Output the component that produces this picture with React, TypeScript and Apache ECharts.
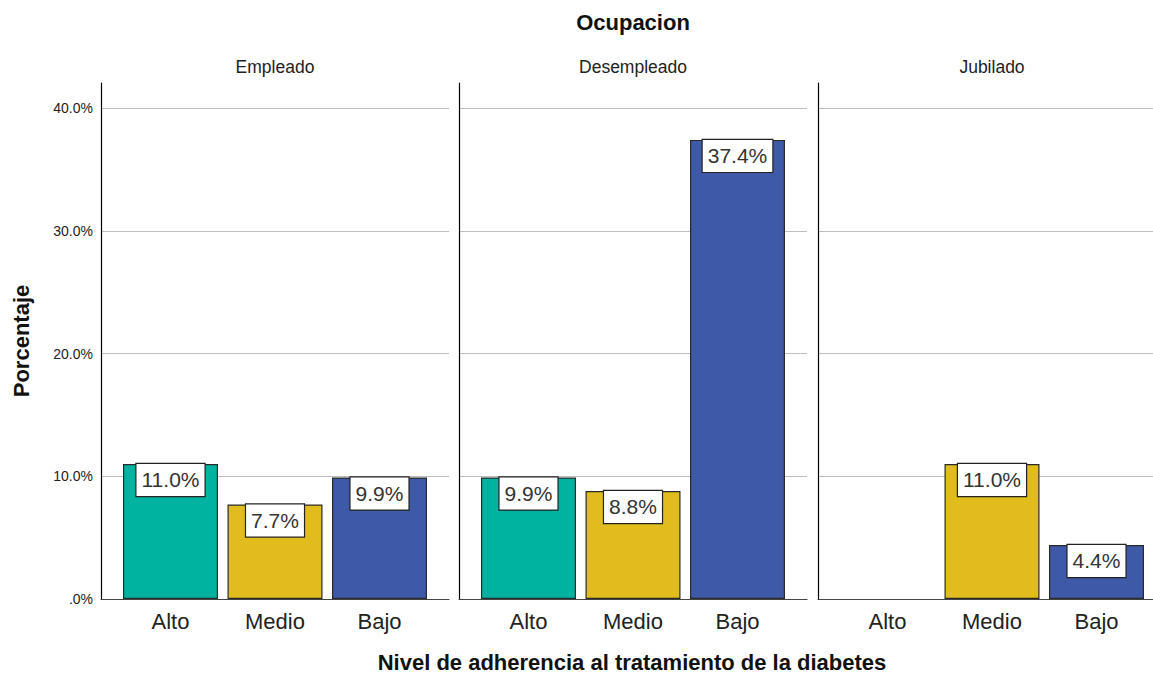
import React, { useEffect, useRef } from "react";
import * as echarts from "echarts";

const chartTitle = "Ocupacion";
const panelNames = ["Empleado", "Desempleado", "Jubilado"];
const categories = ["Alto", "Medio", "Bajo"];
const empleado: (number | null)[] = [11.0, 7.7, 9.9];
const desempleado: (number | null)[] = [9.9, 8.8, 37.4];
const jubilado: (number | null)[] = [null, 11.0, 4.4];
const panelValues = [empleado, desempleado, jubilado];
const yTickStep = 10;
const yMax = 40;
const yAxisName = "Porcentaje";
const xAxisName = "Nivel de adherencia al tratamiento de la diabetes";

const barColors = ["#00B3A0", "#E1BC1D", "#3E59A8"];
const FONT = "'Liberation Sans', Arial, sans-serif";

export default function App() {
  const ref = useRef<HTMLDivElement>(null);
  useEffect(() => {
    if (!ref.current) return;
    const chart = echarts.init(ref.current, undefined, { renderer: "svg" });

    const panelLefts = [101, 459, 818];
    const panelWidth = 348;
    const inset = 17.25;
    const dataWidth = 313.5;
    const frameTop = 83;
    const frameHeight = 516;
    const plotTop = 108;
    const plotHeight = 491;
    const frameMax = (yMax * frameHeight) / plotHeight;

    const grid: any[] = [];
    const xAxis: any[] = [];
    const yAxis: any[] = [];
    const series: any[] = [];
    const graphic: any[] = [];

    panelValues.forEach((vals, i) => {
      const L = panelLefts[i];
      // frame grid
      grid.push({ left: L, width: panelWidth, top: frameTop, height: frameHeight });
      xAxis.push({
        type: "category",
        gridIndex: 3 * i,
        data: [""],
        z: 5,
        axisLine: { show: true, lineStyle: { color: "#444", width: 1.2 } },
        axisTick: { show: false },
        axisLabel: { show: false },
        splitLine: { show: false },
      });
      yAxis.push({
        type: "value",
        gridIndex: 3 * i,
        min: 0,
        max: frameMax,
        z: 5,
        axisLine: { show: true, lineStyle: { color: "#000", width: 1.2 } },
        axisTick: { show: false },
        axisLabel: { show: false },
        splitLine: { show: false },
      });
      // split-line grid
      grid.push({ left: L, width: panelWidth, top: plotTop, height: plotHeight });
      xAxis.push({ type: "category", gridIndex: 3 * i + 1, data: [""], show: false });
      yAxis.push({
        type: "value",
        gridIndex: 3 * i + 1,
        min: 0,
        max: yMax,
        interval: yTickStep,
        axisLine: { show: false },
        axisTick: { show: false },
        splitLine: { show: true, lineStyle: { color: "#bdbdbd", width: 1 } },
        axisLabel: {
          show: i === 0,
          margin: 8,
          fontSize: 14,
          fontFamily: FONT,
          color: "#222",
          formatter: (v: number) => (v === 0 ? ".0%" : v.toFixed(1) + "%"),
        },
      });
      // data grid
      grid.push({ left: L + inset, width: dataWidth, top: plotTop, height: plotHeight });
      xAxis.push({
        type: "category",
        gridIndex: 3 * i + 2,
        data: categories,
        axisLine: { show: false },
        axisTick: { show: false },
        axisLabel: { margin: 11, fontSize: 22, fontFamily: FONT, color: "#222" },
      });
      yAxis.push({
        type: "value",
        gridIndex: 3 * i + 2,
        min: 0,
        max: yMax,
        show: false,
        splitLine: { show: false },
      });
      series.push({
        type: "bar",
        xAxisIndex: 3 * i + 2,
        yAxisIndex: 3 * i + 2,
        barWidth: 95,
        data: vals.map((v, k) => ({
          value: v === null ? "-" : v,
          itemStyle: { color: barColors[k], borderColor: "#2a2a2a", borderWidth: 1.2 },
        })),
        label: {
          show: true,
          position: "insideTop",
          distance: 0,
          formatter: (p: any) => (typeof p.value === "number" ? p.value.toFixed(1) + "%" : ""),
          backgroundColor: "#fff",
          borderColor: "#222",
          borderWidth: 1.2,
          padding: [5, 5, 5, 5],
          fontSize: 21,
          lineHeight: 22,
          fontFamily: FONT,
          color: "#333",
        },
      });
      graphic.push({
        type: "text",
        x: L + panelWidth / 2,
        y: 67,
        style: {
          text: panelNames[i],
          fontSize: 17.5,
          fontFamily: FONT,
          fill: "#222",
          align: "center",
          verticalAlign: "middle",
        },
      });
    });

    graphic.push(
      {
        type: "text",
        x: 633,
        y: 22,
        style: {
          text: chartTitle,
          fontSize: 22,
          fontWeight: "bold",
          fontFamily: FONT,
          fill: "#111",
          align: "center",
          verticalAlign: "middle",
        },
      },
      {
        type: "text",
        x: 21,
        y: 341,
        rotation: Math.PI / 2,
        style: {
          text: yAxisName,
          fontSize: 22,
          fontWeight: "bold",
          fontFamily: FONT,
          fill: "#111",
          align: "center",
          verticalAlign: "middle",
        },
      },
      {
        type: "text",
        x: 632,
        y: 662,
        style: {
          text: xAxisName,
          fontSize: 22,
          fontWeight: "bold",
          fontFamily: FONT,
          fill: "#111",
          align: "center",
          verticalAlign: "middle",
        },
      }
    );

    chart.setOption({
      animation: false,
      backgroundColor: "#fff",
      grid,
      xAxis,
      yAxis,
      series,
      graphic,
    });
    return () => chart.dispose();
  }, []);
  return (
    <div
      ref={ref}
      style={{ position: "fixed", left: 0, top: 0, width: 1153, height: 674 }}
    />
  );
}
